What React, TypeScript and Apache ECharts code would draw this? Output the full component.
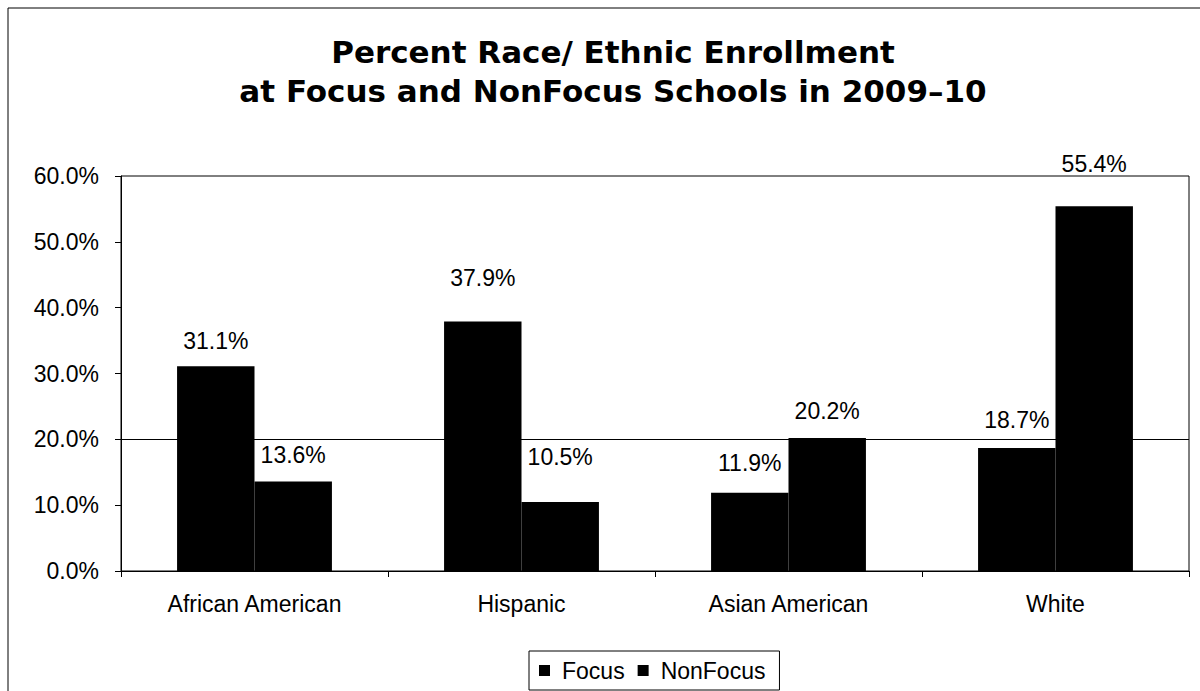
import React, { useEffect, useRef } from "react";
import * as echarts from "echarts";

const categories = ["African American", "Hispanic", "Asian American", "White"];
const focusValues = [31.1, 37.9, 11.9, 18.7];
const nonFocusValues = [13.6, 10.5, 20.2, 55.4];
const seriesNames = ["Focus", "NonFocus"];
const titleLines = ["Percent Race/ Ethnic Enrollment", "at Focus and NonFocus Schools in 2009\u201310"];
// label gap above each bar (style only)
const focusLabelGap = [14, 32, 18, 16];
const nonFocusLabelGap = [15, 33, 16, 31];

const FONT = "'Liberation Sans', Arial, sans-serif";

export default function App() {
  const ref = useRef<HTMLDivElement>(null);
  useEffect(() => {
    document.body.style.margin = "0";
    const chart = echarts.init(ref.current!, null, { renderer: "svg" });
    const labelStyle = {
      show: true,
      position: "top" as const,
      fontSize: 23,
      fontFamily: FONT,
      color: "#000",
      formatter: (p: any) => `${Number(p.value).toFixed(1)}%`,
    };
    const mk = (vals: number[], gaps: number[]) =>
      vals.map((v, i) => ({ value: v, label: { distance: gaps[i] } }));
    chart.setOption({
      animation: false,
      backgroundColor: "#fff",
      textStyle: { fontFamily: FONT },
      title: {
        text: titleLines.join("\n"),
        left: 608,
        textAlign: "center",
        top: 27,
        textStyle: {
          fontFamily: "'DejaVu Sans', sans-serif",
          fontWeight: "bold",
          fontSize: 31,
          lineHeight: 39,
          color: "#000",
        },
      },
      graphic: [
        {
          type: "rect",
          shape: { x: 8, y: 8, width: 1200, height: 700 },
          style: { fill: "none", stroke: "#000", lineWidth: 1 },
          silent: true,
        },
      ],
      legend: {
        data: seriesNames,
        left: 529,
        bottom: 1,
        icon: "rect",
        itemWidth: 11,
        itemHeight: 11,
        itemGap: 13,
        borderColor: "#000",
        borderWidth: 1,
        padding: [8, 14, 8, 10],
        textStyle: { fontSize: 23, fontFamily: FONT, color: "#000", padding: [0, 0, 0, 7] },
      },
      grid: {
        left: 121,
        right: 11,
        top: 176,
        bottom: 120,
        show: true,
        borderColor: "#000",
        borderWidth: 1,
        backgroundColor: "transparent",
      },
      xAxis: {
        type: "category",
        data: categories,
        axisLine: { show: true, lineStyle: { color: "#000", width: 1 } },
        axisTick: { show: true, alignWithLabel: false, length: 6, lineStyle: { color: "#000" } },
        axisLabel: { fontSize: 23, fontFamily: FONT, color: "#000", margin: 21 },
      },
      yAxis: {
        type: "value",
        min: 0,
        max: 60,
        interval: 10,
        axisLine: { show: true, lineStyle: { color: "#000", width: 1 } },
        axisTick: { show: true, length: 6, lineStyle: { color: "#000" } },
        splitLine: { show: false },
        axisLabel: {
          fontSize: 23,
          fontFamily: FONT,
          color: "#000",
          margin: 22,
          formatter: (v: number) => `${v.toFixed(1)}%`,
        },
      },
      series: [
        {
          name: seriesNames[0],
          type: "bar",
          data: mk(focusValues, focusLabelGap),
          barGap: "0%",
          barCategoryGap: "42%",
          itemStyle: { color: "#000" },
          label: labelStyle,
          markLine: {
            silent: true,
            symbol: "none",
            label: { show: false },
            lineStyle: { color: "#000", type: "solid", width: 1 },
            data: [{ yAxis: 20 }],
            z: 1,
          },
        },
        {
          name: seriesNames[1],
          type: "bar",
          data: mk(nonFocusValues, nonFocusLabelGap),
          barGap: "0%",
          barCategoryGap: "42%",
          itemStyle: { color: "#000" },
          label: labelStyle,
        },
      ],
    });
    return () => chart.dispose();
  }, []);
  return <div ref={ref} style={{ width: 1200, height: 691 }} />;
}
